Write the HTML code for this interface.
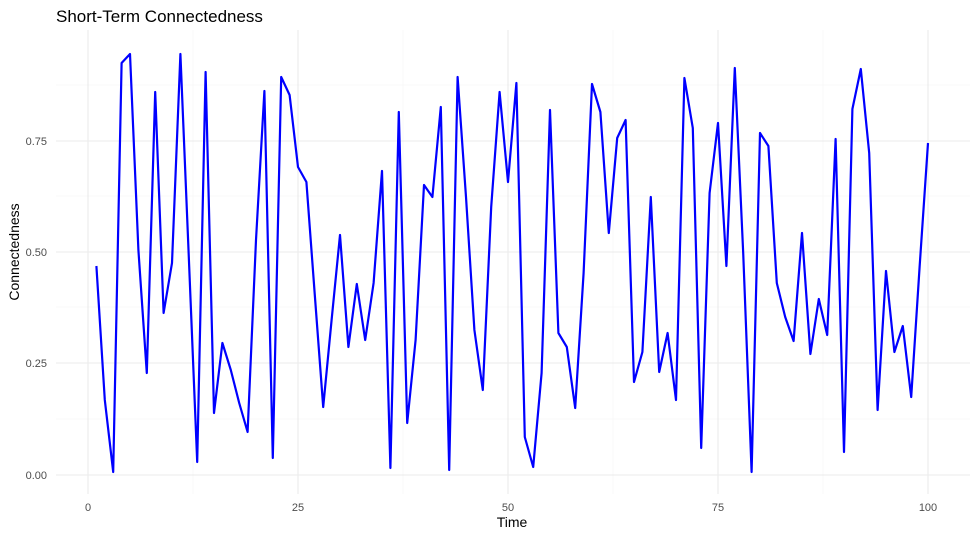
<!DOCTYPE html>
<html><head><style>body{margin:0;background:#fff}svg{display:block}</style></head><body>
<svg width="978" height="538" xmlns="http://www.w3.org/2000/svg" font-family="Liberation Sans, sans-serif">
<rect width="978" height="538" fill="#fff"/>
<g stroke="#f4f4f4" stroke-width="0.6">
<line x1="56" x2="970" y1="419" y2="419"/><line x1="56" x2="970" y1="307" y2="307"/><line x1="56" x2="970" y1="196" y2="196"/><line x1="56" x2="970" y1="85" y2="85"/>
<line y1="30" y2="494" x1="193" x2="193"/><line y1="30" y2="494" x1="403" x2="403"/><line y1="30" y2="494" x1="613" x2="613"/><line y1="30" y2="494" x1="823" x2="823"/>
</g>
<g stroke="#ebebeb" stroke-width="1.1">
<line x1="56" x2="970" y1="475" y2="475"/><line x1="56" x2="970" y1="363" y2="363"/><line x1="56" x2="970" y1="252" y2="252"/><line x1="56" x2="970" y1="141" y2="141"/>
<line y1="30" y2="494" x1="88" x2="88"/><line y1="30" y2="494" x1="298" x2="298"/><line y1="30" y2="494" x1="508" x2="508"/><line y1="30" y2="494" x1="718" x2="718"/><line y1="30" y2="494" x1="928" x2="928"/>
</g>
<polyline fill="none" stroke="#0000ff" stroke-width="2.2" stroke-linejoin="round" points="
96.4,266 104.8,400 113.2,472 121.6,63 130,54 138.4,250 146.8,373 155.2,92 163.6,313 172,263 180.4,54 188.8,257 197.2,462 205.6,72 214,413 222.4,343 230.8,370 239.2,403 247.6,432 256,240 264.4,91 272.8,458 281.2,77 289.6,95 298,167 306.4,182 314.8,295 323.2,407 331.6,320 340,235 348.4,347 356.8,284 365.2,340 373.6,283 382,171 390.4,468 398.8,112 407.2,423 415.6,340 424,185 432.4,197 440.8,107 449.2,470 457.6,77 466,197 474.4,330 482.8,390 491.2,207 499.6,92 508,182 516.4,83 524.8,437 533.2,467 541.6,373 550,110 558.4,333 566.8,347 575.2,408 583.6,273 592,84 600.4,112 608.8,233 617.2,138 625.6,120 634,382 642.4,352 650.8,197 659.2,372 667.6,333 676,400 684.4,78 692.8,128 701.2,448 709.6,193 718,123 726.4,266 734.8,68 743.2,253 751.6,472 760,133 768.4,146 776.8,283 785.2,317 793.6,341 802,233 810.4,354 818.8,299 827.2,335 835.6,139 844,452 852.4,109 860.8,69 869.2,153 877.6,410 886,271 894.4,352 902.8,326 911.2,397 919.6,267 928,143"/>
<g font-size="11" fill="#4d4d4d" text-anchor="end">
<text x="47" y="479">0.00</text><text x="47" y="367">0.25</text><text x="47" y="256">0.50</text><text x="47" y="145">0.75</text>
</g>
<g font-size="11" fill="#4d4d4d" text-anchor="middle">
<text x="88" y="511">0</text><text x="298" y="511">25</text><text x="508" y="511">50</text><text x="718" y="511">75</text><text x="928" y="511">100</text>
</g>
<text x="512" y="527" font-size="14" text-anchor="middle" fill="#000">Time</text>
<text transform="translate(19,252) rotate(-90)" font-size="14" text-anchor="middle" fill="#000">Connectedness</text>
<text x="56" y="22" font-size="17" fill="#000">Short-Term Connectedness</text>
</svg>
</body></html>
